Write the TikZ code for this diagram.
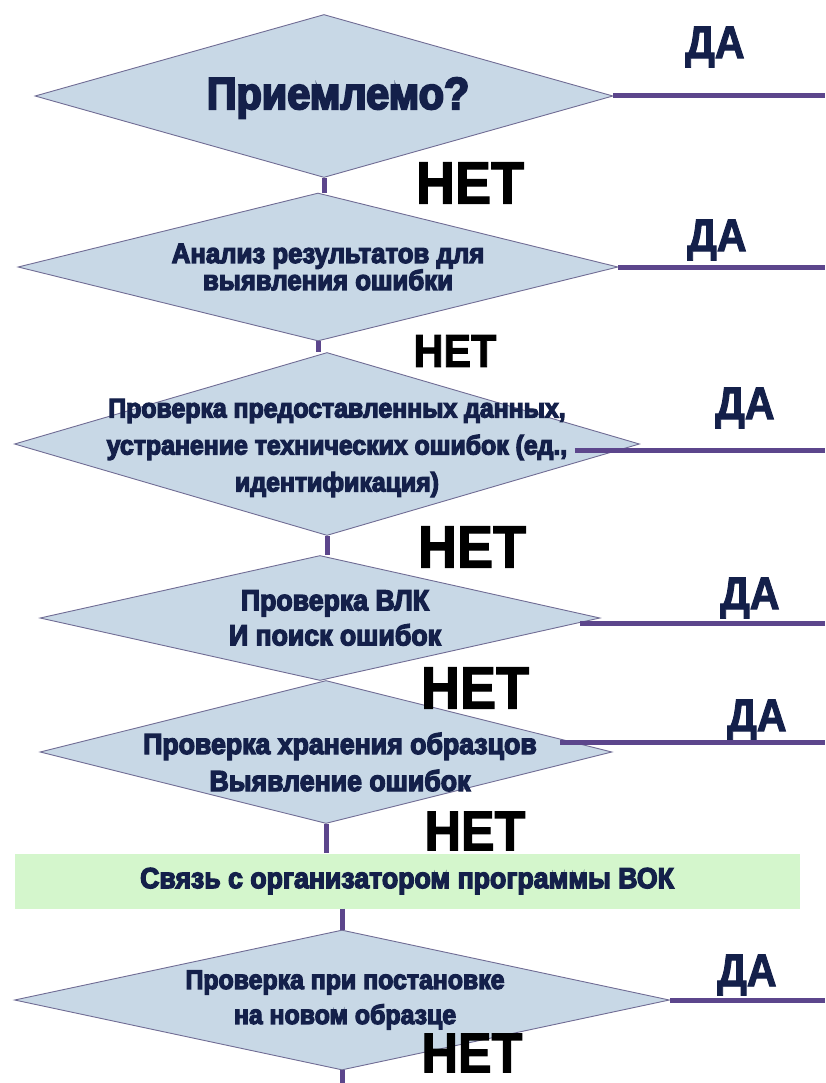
\documentclass[tikz,border=0pt]{standalone}
\usepackage{fontspec}
\setmainfont{Liberation Sans}
\newfontfamily\narrowfont{Liberation Sans}[BoldFeatures={FakeStretch=0.9, FakeBold=2}]
\newfontfamily\heavyfont{Liberation Sans}[BoldFeatures={FakeStretch=0.92, FakeBold=4.5}]
\usepackage{xcolor}
\usetikzlibrary{shapes.geometric, positioning, calc}
\definecolor{boxblue}{RGB}{200,216,230}
\definecolor{boxedge}{RGB}{112,108,148}
\definecolor{linkpurple}{RGB}{92,70,140}
\definecolor{txtnavy}{RGB}{20,32,74}
\definecolor{notegreen}{RGB}{212,246,204}
\newcommand{\qfont}[2]{\bfseries\fontsize{#1}{#2}\selectfont}
\tikzset{
    decision/.style={diamond, draw=boxedge, fill=boxblue, line width=0.9pt, inner sep=0pt},
    qtext/.style={align=center, text=txtnavy, inner sep=0pt},
    notebox/.style={rectangle, fill=notegreen, draw=none, text=txtnavy, minimum width=785pt, minimum height=55pt, font=\heavyfont\qfont{29}{30}},
    yeslabel/.style={text=txtnavy, font=\narrowfont\qfont{46}{46}},
    nolabel/.style={text=black, font=\narrowfont\qfont{60}{60}},
    link/.style={draw=linkpurple, line width=5pt}
}

\begin{document}
\begin{tikzpicture}[x=1pt, y=-1pt]
  \useasboundingbox (0,0) rectangle (825,1083);
  % questions
  \node[decision, minimum width=578pt, minimum height=163pt,
    label={[qtext, font=\heavyfont\qfont{45}{46}, xshift=14pt, yshift=-2pt]center:Приемлемо?}] (q1) at (324,96) {};
  \node[decision, minimum width=600pt, minimum height=148pt,
    label={[qtext, font=\heavyfont\qfont{28}{27}, xshift=10pt]center:Анализ результатов для\\выявления ошибки}] (q2) at (318,267) {};
  \node[decision, minimum width=625pt, minimum height=183pt,
    label={[qtext, font=\heavyfont\qfont{27}{37}, xshift=10pt, yshift=-4pt]center:Проверка предоставленных данных,\\устранение технических ошибок (ед.,\\идентификация)}] (q3) at (327,444) {};
  \node[decision, minimum width=560pt, minimum height=125pt,
    label={[qtext, font=\heavyfont\qfont{29}{35}, xshift=15pt]center:Проверка ВЛК\\И поиск ошибок}] (q4) at (320,618) {};
  \node[decision, minimum width=572pt, minimum height=143pt,
    label={[qtext, font=\heavyfont\qfont{29}{37}, xshift=14pt, yshift=-10pt]center:Проверка хранения образцов\\Выявление ошибок}] (q5) at (326,752) {};
  \node[notebox] (org) at (407,881) {Связь с организатором программы ВОК};
  \node[decision, minimum width=655pt, minimum height=140pt,
    label={[qtext, font=\heavyfont\qfont{27}{35}, xshift=3pt]center:Проверка при постановке\\на новом образце}] (q6) at (342,1000) {};
  % free ends
  \coordinate (y1) at (825,96);
  \coordinate (y2) at (825,267);
  \coordinate (y3) at (825,450);
  \coordinate (y4) at (825,623);
  \coordinate (y5) at (825,742);
  \coordinate (y6) at (825,1000);
  \coordinate (tail) at (330,1083);
  % branch words
  \node[yeslabel] (da1) at (715,47) {ДА};
  \node[yeslabel] (da2) at (717,240) {ДА};
  \node[yeslabel] (da3) at (745,408) {ДА};
  \node[yeslabel] (da4) at (750,598) {ДА};
  \node[yeslabel] (da5) at (757,720) {ДА};
  \node[yeslabel] (da6) at (747,975) {ДА};
  \node[nolabel] (net1) at (470,183) {НЕТ};
  \node[nolabel, font=\narrowfont\qfont{46}{46}] (net2) at (455,351) {НЕТ};
  \node[nolabel] (net3) at (472,547) {НЕТ};
  \node[nolabel] (net4) at (475,688) {НЕТ};
  \node[nolabel, font=\narrowfont\qfont{56}{56}] (net5) at (475,831) {НЕТ};
  \node[nolabel, font=\narrowfont\qfont{56}{56}] (net6) at (472,1053) {НЕТ};
  % lines
  \draw[link] (q1.east) -- (y1);
  \draw[link] (q2.east) -- (y2);
  \draw[link] ([shift={(-65pt,-6pt)}]q3.east) -- (y3);
  \draw[link] ([shift={(-20pt,-5pt)}]q4.east) -- (y4);
  \draw[link] ([shift={(-52pt,10pt)}]q5.east) -- (y5);
  \draw[link] (q6.east) -- (y6);
  \draw[link] (q1.south) -- (q1.south |- q2.north);
  \draw[link] (q2.south) -- (q2.south |- q3.north);
  \draw[link] (q3.south) -- (q3.south |- q4.north);
  \draw[link] (q5.south) -- (q5.south |- org.north);
  \draw[link] (q6.north |- org.south) -- (q6.north);
  \draw[link] (q6.south) -- (q6.south |- tail);
\end{tikzpicture}
\end{document}
